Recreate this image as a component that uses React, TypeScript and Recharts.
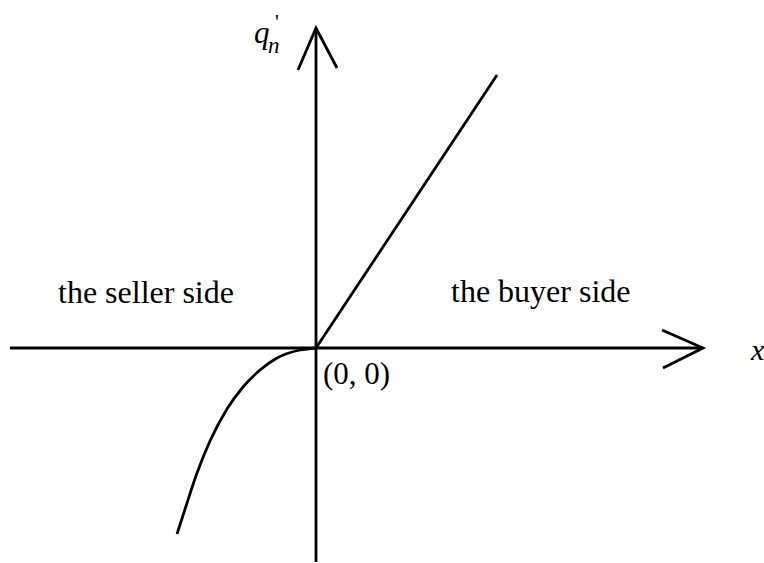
import { LineChart, Line, XAxis, YAxis } from "recharts";

// coordinates in chart units, origin at (0, 0)
const xAxisLine = [
  { x: -306, y: 0 },
  { x: 387, y: 0 },
];
const xArrow = [
  { x: 346, y: 18 },
  { x: 387, y: 0 },
  { x: 347, y: -20 },
];
const yAxisLine = [
  { x: 0, y: -214 },
  { x: 0, y: 320 },
];
const yArrow = [
  { x: -18, y: 278 },
  { x: 0, y: 320 },
  { x: 21, y: 280 },
];
// buyer side: straight line
const buyerLine = [
  { x: 0, y: 0 },
  { x: 181, y: 273 },
];
// seller side: curve
const sellerCurve = [
  { x: -139, y: -186 },
  { x: -129, y: -155 },
  { x: -119, y: -125 },
  { x: -106, y: -93 },
  { x: -89, y: -61 },
  { x: -73, y: -39 },
  { x: -56, y: -22 },
  { x: -39, y: -10 },
  { x: -16, y: -2 },
  { x: 0, y: 0 },
];

const W = 764;
const H = 563;
const FONT = "'Liberation Serif', 'Times New Roman', serif";

const lineProps = {
  stroke: "#000",
  strokeWidth: 2.8,
  dot: false,
  activeDot: false,
  isAnimationActive: false,
};

const App = () => {
  return (
    <div style={{ position: "absolute", left: 0, top: 0, background: "#fff" }}>
      <LineChart width={W} height={H} margin={{ top: 0, right: 0, bottom: 0, left: 0 }}>
        <XAxis type="number" dataKey="x" domain={[-316, 448]} hide allowDataOverflow />
        <YAxis type="number" dataKey="y" domain={[-215, 348]} hide allowDataOverflow />
        <Line data={xAxisLine} dataKey="y" type="linear" {...lineProps} />
        <Line data={xArrow} dataKey="y" type="linear" {...lineProps} />
        <Line data={yAxisLine} dataKey="y" type="linear" {...lineProps} />
        <Line data={yArrow} dataKey="y" type="linear" {...lineProps} />
        <Line data={buyerLine} dataKey="y" type="linear" {...lineProps} />
        <Line data={sellerCurve} dataKey="y" type="monotone" {...lineProps} />
        <text x={58} y={303} fontFamily={FONT} fontSize={32} fill="#000">the seller side</text>
        <text x={451} y={302} fontFamily={FONT} fontSize={32} fill="#000">the buyer side</text>
        <text x={323} y={384} fontFamily={FONT} fontSize={31} fill="#000">(0, 0)</text>
        <text x={751} y={360} fontFamily={FONT} fontSize={30} fontStyle="italic" fill="#000">x</text>
        <text x={254} y={43} fontFamily={FONT} fontSize={31} fontStyle="italic" fill="#000">q</text>
        <text x={268} y={53} fontFamily={FONT} fontSize={23} fontStyle="italic" fill="#000">n</text>
        <text x={275} y={29} fontFamily={FONT} fontSize={22} fill="#000">'</text>
      </LineChart>
    </div>
  );
};

export default App;
